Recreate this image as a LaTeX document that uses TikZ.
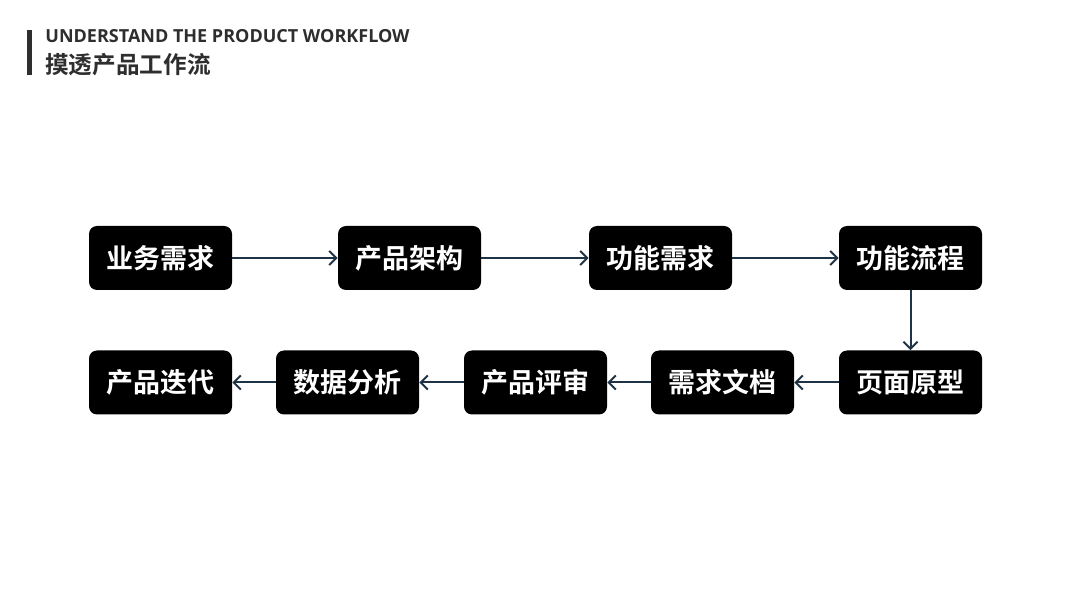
\documentclass[tikz,border=0pt]{standalone}
\usepackage{fontspec}
\setmainfont{Open Sans}
\newfontfamily\cjk{Noto Sans CJK SC}[BoldFont={* Bold}]
\usetikzlibrary{arrows.meta}
\definecolor{arrowc}{HTML}{1F3347}
\definecolor{headc}{HTML}{2E2E2E}
\tikzset{
  stepbox/.style={fill=black, rounded corners=4pt, minimum width=71.5pt, minimum height=32pt, inner sep=0pt, text=white, font=\cjk\bfseries\fontsize{13.5pt}{14pt}\selectfont},
  flow/.style={draw=arrowc, line width=1pt, -{Straight Barb[length=3.5pt,width=7pt,line width=1pt]}}
}
\begin{document}
\begin{tikzpicture}[x=0.5pt,y=-0.5pt]
\useasboundingbox (0,0) rectangle (1080,608);
\fill[white] (0,0) rectangle (1080,608);
% header
\fill[headc] (27,30) rectangle (32,75);
\node[anchor=base west, inner sep=0pt, text=headc, font=\fontsize{9.0pt}{10pt}\selectfont\bfseries] (eng) at (45,43) {UNDERSTAND THE PRODUCT WORKFLOW};
\node[anchor=base west, inner sep=0pt, text=headc, font=\cjk\bfseries\fontsize{11.8pt}{12pt}\selectfont] (zh) at (45,74) {摸透产品工作流};
% top row
\node[stepbox] (a1) at (160.5,258) {业务需求};
\node[stepbox] (a2) at (409.5,258) {产品架构};
\node[stepbox] (a3) at (660.5,258) {功能需求};
\node[stepbox] (a4) at (910.5,258) {功能流程};
% bottom row
\node[stepbox] (b5) at (910.5,382.5) {页面原型};
\node[stepbox] (b4) at (722.5,382.5) {需求文档};
\node[stepbox] (b3) at (535.5,382.5) {产品评审};
\node[stepbox] (b2) at (347.5,382.5) {数据分析};
\node[stepbox] (b1) at (160.5,382.5) {产品迭代};
% arrows
\draw[flow] (a1) -- (a2);
\draw[flow] (a2) -- (a3);
\draw[flow] (a3) -- (a4);
\draw[flow] (a4) -- (b5);
\draw[flow] (b5) -- (b4);
\draw[flow] (b4) -- (b3);
\draw[flow] (b3) -- (b2);
\draw[flow] (b2) -- (b1);
\end{tikzpicture}
\end{document}
